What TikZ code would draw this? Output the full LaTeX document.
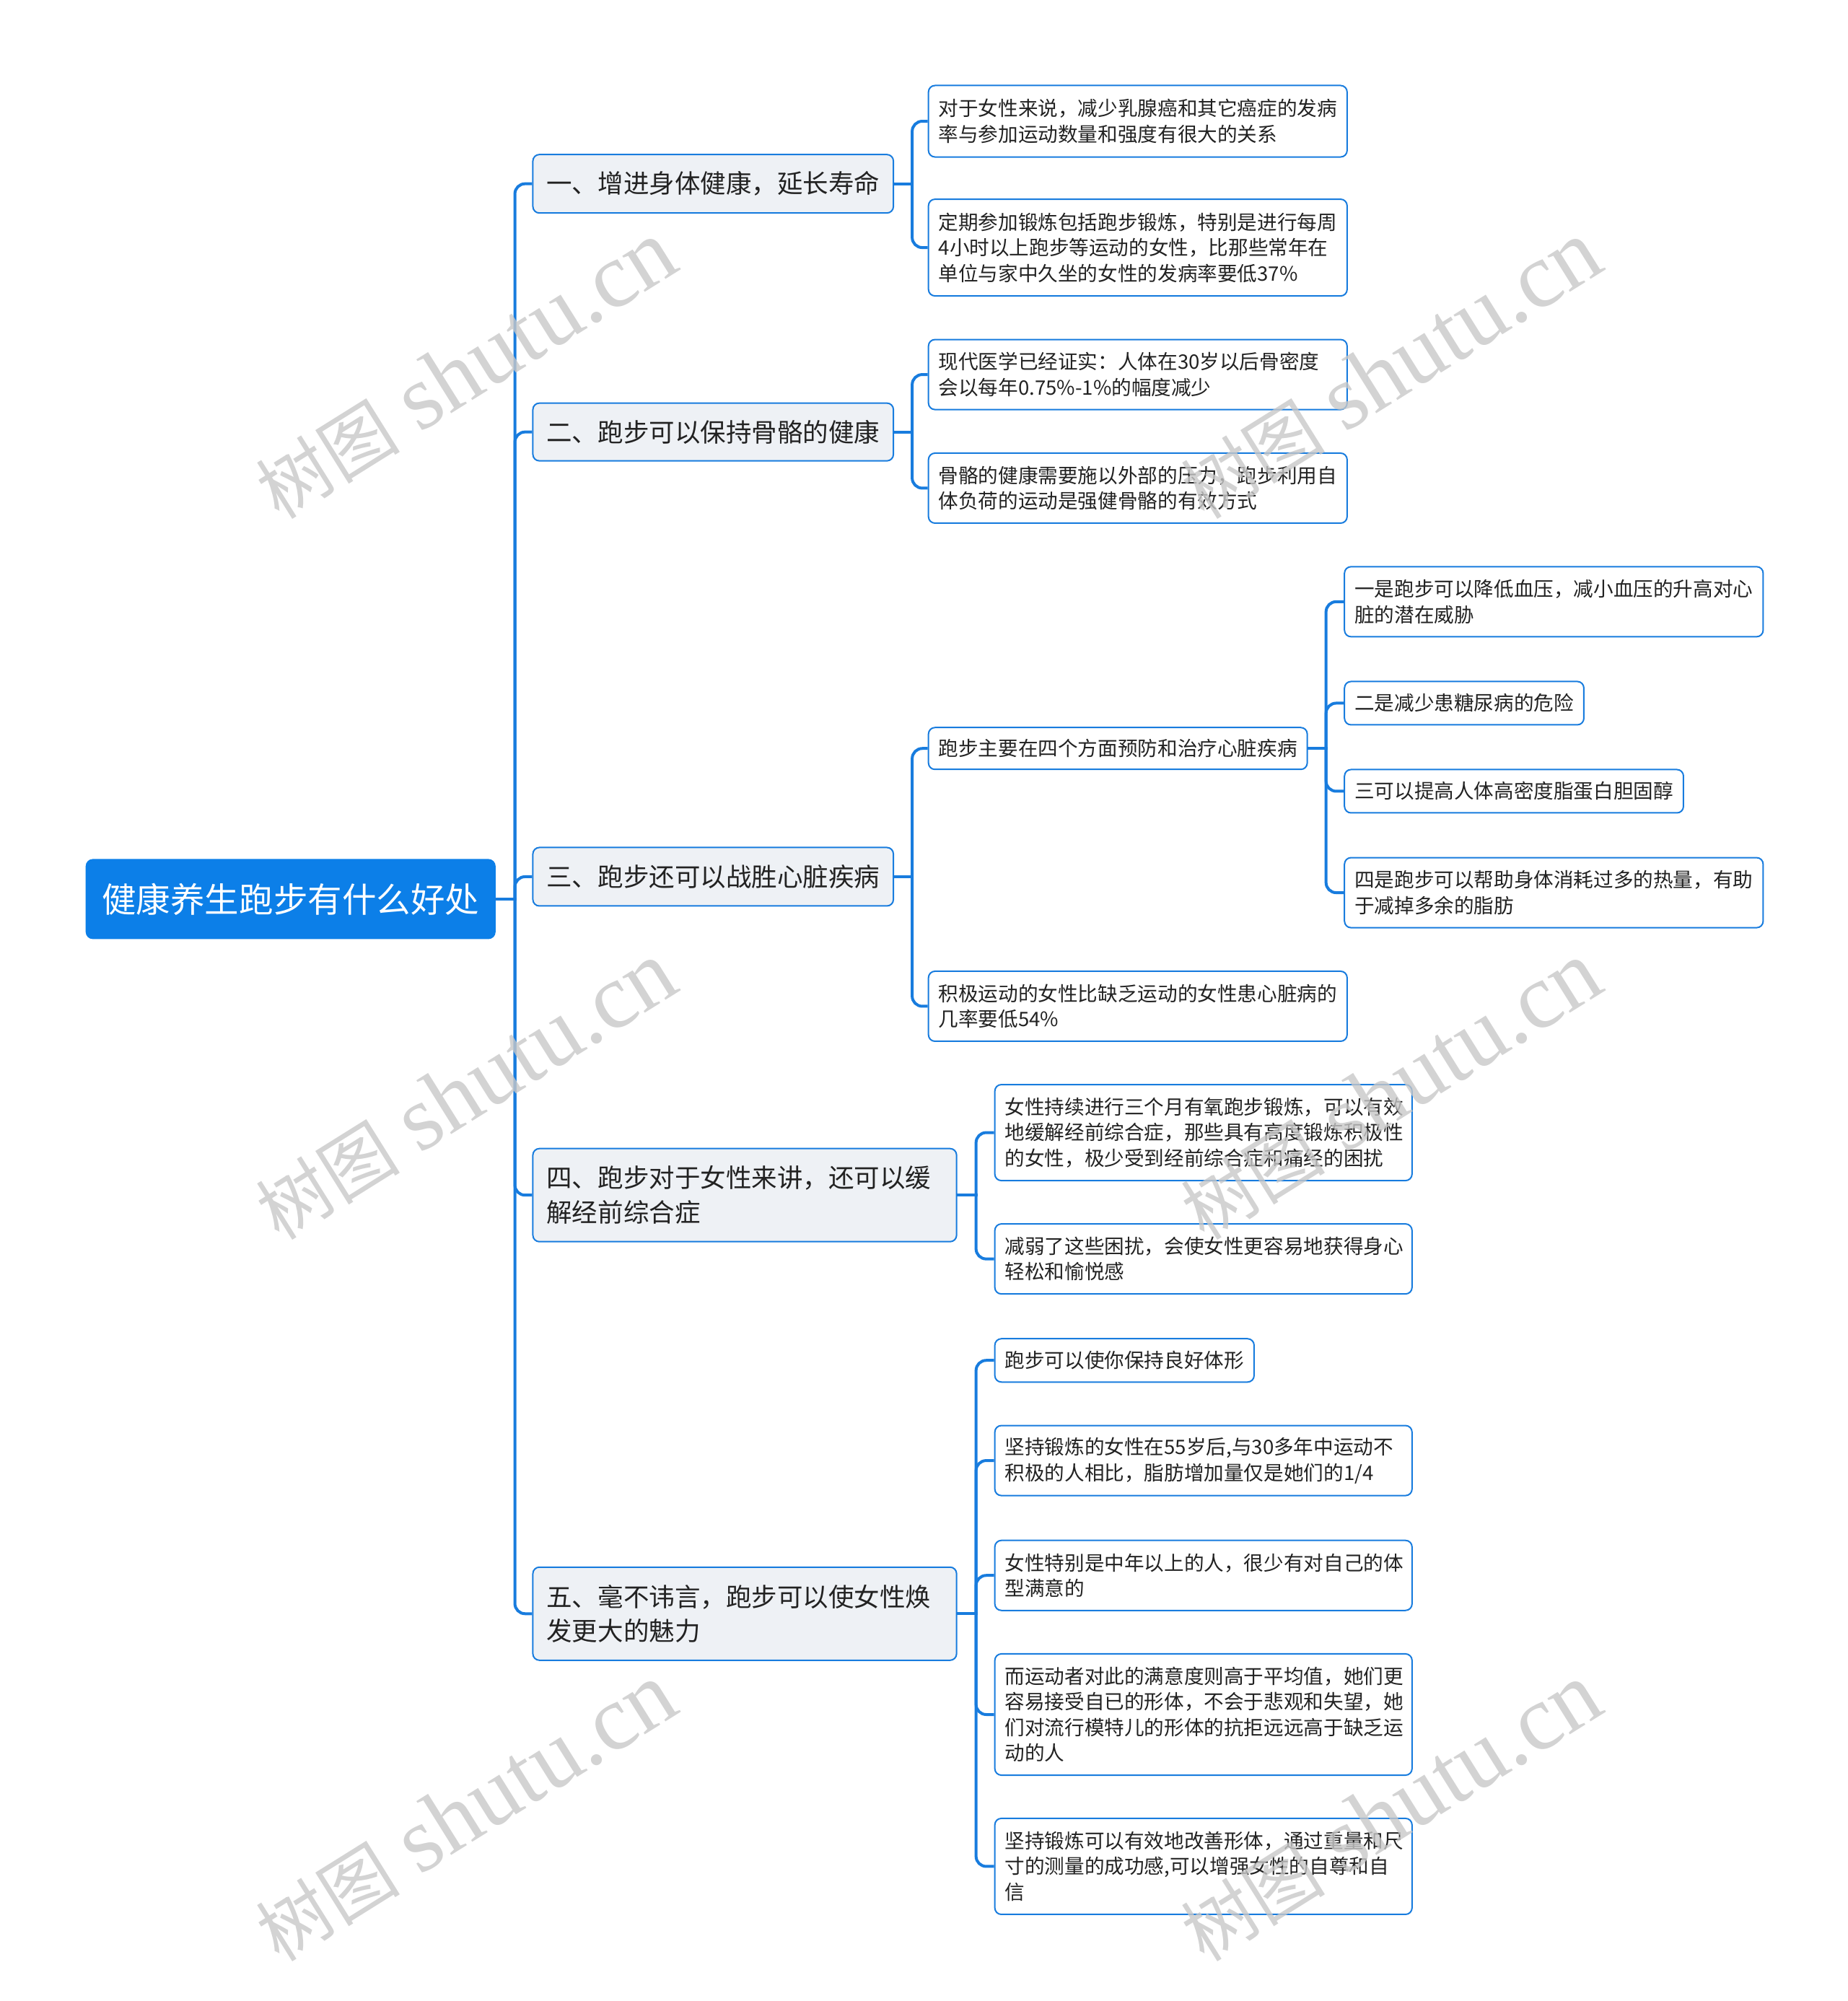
\documentclass[tikz,border=0pt]{standalone}
\usepackage{fontspec}
\setmainfont{Noto Sans CJK SC}
\newfontfamily\wmlatin{Liberation Serif}
\newfontfamily\wmcjk{Noto Sans CJK SC}
\definecolor{rootblue}{RGB}{12,127,232}
\definecolor{lineblue}{RGB}{24,124,222}
\definecolor{lonefill}{RGB}{238,241,245}
\definecolor{txt}{RGB}{34,34,34}
\definecolor{wmgray}{RGB}{200,200,200}
\tikzset{
  rootbox/.style={fill=rootblue, rounded corners=10pt, text=white,
    font=\fontsize{47.5}{55}\selectfont, minimum width=568pt, minimum height=111pt,
    inner sep=0pt, anchor=west},
  topic/.style={fill=lonefill, draw=lineblue, line width=2pt, rounded corners=9pt,
    text=txt, font=\fontsize{35.5}{47.7}\selectfont, align=left,
    inner xsep=19pt, inner ysep=0pt, anchor=west},
  leaf/.style={fill=white, draw=lineblue, line width=2pt, rounded corners=9pt,
    text=txt, font=\fontsize{27.6}{35.4}\selectfont, align=left,
    inner xsep=14pt, inner ysep=0pt, anchor=west},
  conn/.style={draw=lineblue, line width=4pt, line cap=rect},
  bendline/.style={draw=lineblue, line width=4pt, rounded corners=14pt},
  wm/.style={text=wmgray, opacity=0.8, rotate=32, inner sep=0pt},
}
\begin{document}
\begin{tikzpicture}[x=1.768pt,y=-1.768pt]
\useasboundingbox (0,0) rectangle (1448,1568);

% root
\node[rootbox] (root) at (67,704.5) {健康养生跑步有什么好处};

% level 1
\node[topic, minimum height=81pt, minimum width=497pt] (n1) at (417,144) {一、增进身体健康，延长寿命};
\node[topic, minimum height=80pt, minimum width=497pt] (n2) at (417,338.5) {二、跑步可以保持骨骼的健康};
\node[topic, minimum height=81pt, minimum width=497pt] (n3) at (417,687) {三、跑步还可以战胜心脏疾病};
\node[topic, minimum height=129pt, text width=549pt] (n4) at (417,936.5) {四、跑步对于女性来讲，还可以缓\\解经前综合症};
\node[topic, minimum height=129pt, text width=549pt] (n5) at (417,1264.5) {五、毫不讳言，跑步可以使女性焕\\发更大的魅力};

% level 2 under 1
\node[leaf, minimum height=99pt, text width=552pt] (n1a) at (727,95) {对于女性来说，减少乳腺癌和其它癌症的发病\\率与参加运动数量和强度有很大的关系};
\node[leaf, minimum height=134pt, text width=552pt] (n1b) at (727,194) {定期参加锻炼包括跑步锻炼，特别是进行每周\\4小时以上跑步等运动的女性，比那些常年在\\单位与家中久坐的女性的发病率要低37\%};
% under 2
\node[leaf, minimum height=97pt, text width=552pt] (n2a) at (727,293.5) {现代医学已经证实：人体在30岁以后骨密度\\会以每年0.75\%-1\%的幅度减少};
\node[leaf, minimum height=97pt, text width=552pt] (n2b) at (727,382.5) {骨骼的健康需要施以外部的压力，跑步利用自\\体负荷的运动是强健骨骼的有效方式};
% under 3
\node[leaf, minimum height=58pt] (n3a) at (727,586.5) {跑步主要在四个方面预防和治疗心脏疾病};
\node[leaf, minimum height=97pt, text width=552pt] (n3b) at (727,788.5) {积极运动的女性比缺乏运动的女性患心脏病的\\几率要低54\%};
\node[leaf, minimum height=97pt, text width=552pt] (n3a1) at (1053,471.5) {一是跑步可以降低血压，减小血压的升高对心\\脏的潜在威胁};
\node[leaf, minimum height=60pt] (n3a2) at (1053,551) {二是减少患糖尿病的危险};
\node[leaf, minimum height=60pt] (n3a3) at (1053,620) {三可以提高人体高密度脂蛋白胆固醇};
\node[leaf, minimum height=97pt, text width=552pt] (n3a4) at (1053,699.5) {四是跑步可以帮助身体消耗过多的热量，有助\\于减掉多余的脂肪};
% under 4
\node[leaf, minimum height=133pt, text width=550pt] (n4a) at (779,887.5) {女性持续进行三个月有氧跑步锻炼，可以有效\\地缓解经前综合症，那些具有高度锻炼积极性\\的女性，极少受到经前综合症和痛经的困扰};
\node[leaf, minimum height=97pt, text width=550pt] (n4b) at (779,986.5) {减弱了这些困扰，会使女性更容易地获得身心\\轻松和愉悦感};
% under 5
\node[leaf, minimum height=60pt] (n5a) at (779,1066) {跑步可以使你保持良好体形};
\node[leaf, minimum height=97pt, text width=550pt] (n5b) at (779,1144.5) {坚持锻炼的女性在55岁后,与30多年中运动不\\积极的人相比，脂肪增加量仅是她们的1/4};
\node[leaf, minimum height=97pt, text width=550pt] (n5c) at (779,1234.5) {女性特别是中年以上的人，很少有对自己的体\\型满意的};
\node[leaf, minimum height=168pt, text width=550pt] (n5d) at (779,1343.5) {而运动者对此的满意度则高于平均值，她们更\\容易接受自已的形体，不会于悲观和失望，她\\们对流行模特儿的形体的抗拒远远高于缺乏运\\动的人};
\node[leaf, minimum height=133pt, text width=550pt] (n5e) at (779,1462.5) {坚持锻炼可以有效地改善形体，通过重量和尺\\寸的测量的成功感,可以增强女性的自尊和自\\信};

% connectors
\coordinate (j0) at ([xshift=26.5pt]root.east);
\draw[conn] (root.east) -- (j0);
\foreach \c in {n1,n2,n3,n4,n5} \draw[bendline] (j0) |- (\c.west);

\coordinate (j1) at ([xshift=25pt]n1.east);
\draw[conn] (n1.east) -- (j1);
\foreach \c in {n1a,n1b} \draw[bendline] (j1) |- (\c.west);

\coordinate (j2) at ([xshift=25pt]n2.east);
\draw[conn] (n2.east) -- (j2);
\foreach \c in {n2a,n2b} \draw[bendline] (j2) |- (\c.west);

\coordinate (j3) at ([xshift=25pt]n3.east);
\draw[conn] (n3.east) -- (j3);
\foreach \c in {n3a,n3b} \draw[bendline] (j3) |- (\c.west);

\coordinate (j3a) at ([xshift=25pt]n3a.east);
\draw[conn] (n3a.east) -- (j3a);
\foreach \c in {n3a1,n3a2,n3a3,n3a4} \draw[bendline] (j3a) |- (\c.west);

\coordinate (j4) at ([xshift=26pt]n4.east);
\draw[conn] (n4.east) -- (j4);
\foreach \c in {n4a,n4b} \draw[bendline] (j4) |- (\c.west);

\coordinate (j5) at ([xshift=26pt]n5.east);
\draw[conn] (n5.east) -- (j5);
\foreach \c in {n5a,n5b,n5c,n5d,n5e} \draw[bendline] (j5) |- (\c.west);

% watermarks
\foreach \wx/\wy [count=\i] in {365/290, 1090/290, 365/855, 1090/855, 365/1420, 1090/1420}
  \node[wm] (wm\i) at (\wx,\wy) {{\wmcjk\fontsize{100}{100}\selectfont 树图}\hspace{28pt}{\wmlatin\fontsize{128}{128}\selectfont shutu.cn}};
\end{tikzpicture}
\end{document}
